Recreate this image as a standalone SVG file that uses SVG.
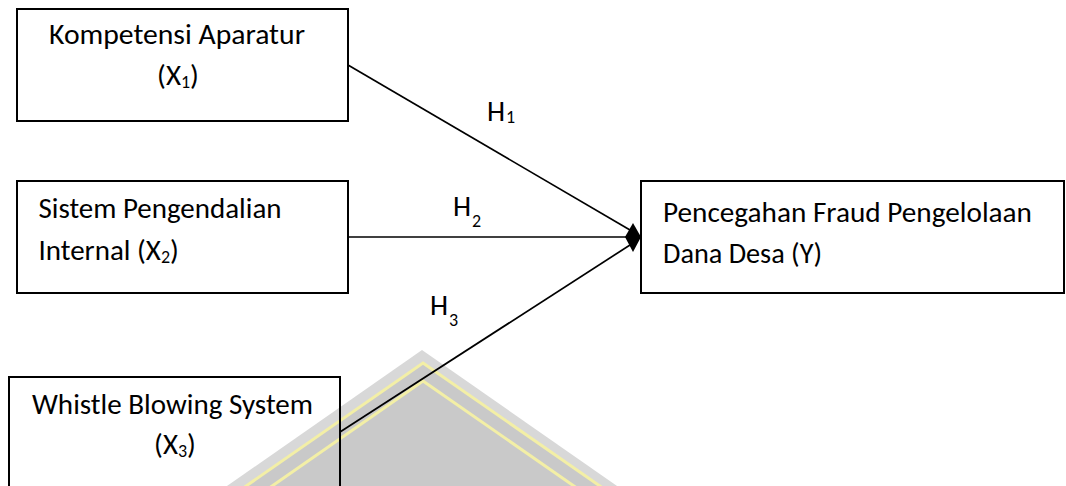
<svg xmlns="http://www.w3.org/2000/svg" width="1066" height="486" viewBox="0 0 1066 486">
  <style>
    .box { fill: none; stroke: #000; stroke-width: 2; }
    .lbl { font-family: Carlito, Lato, "Liberation Sans", sans-serif; font-size: 29px; fill: #000; }
    .sub { font-size: 18px; }
    .conn { stroke: #000; stroke-width: 1.7; fill: none; }
    .wm-out { fill: #d8d8d8; }
    .wm { fill: #c9c9c9; stroke: #f3efa6; stroke-width: 3; }
  </style>
  <rect width="1066" height="486" fill="#fff"/>

  <g id="watermark">
    <polygon class="wm-out" points="422,350 640,502 204,502"/>
    <polygon class="wm" points="423,363 620,500 226,500"/>
    <polygon class="wm" points="423,381 594,500 252,500"/>
  </g>

  <g id="connectors">
    <line class="conn" x1="348" y1="65" x2="630" y2="230"/>
    <line class="conn" x1="348" y1="237" x2="630" y2="237"/>
    <line class="conn" x1="340" y1="432" x2="630" y2="245"/>
    <polygon points="625,237 633,223 641,237 633,252" fill="#000"/>
    <text class="lbl" x="487" y="121">H<tspan class="sub" dx="1" dy="2">1</tspan></text>
    <text class="lbl" x="453" y="216">H<tspan class="sub" dx="1" dy="11">2</tspan></text>
    <text class="lbl" x="430" y="315">H<tspan class="sub" dx="1" dy="11">3</tspan></text>
  </g>

  <g id="node-x1">
    <rect class="box" x="17" y="9" width="331" height="112"/>
    <text class="lbl" x="49" y="43.5" textLength="256" lengthAdjust="spacingAndGlyphs">Kompetensi Aparatur</text>
    <text class="lbl" x="178" y="85" text-anchor="middle">(X<tspan class="sub" dy="3">1</tspan><tspan dy="-3">)</tspan></text>
  </g>

  <g id="node-x2">
    <rect class="box" x="17" y="181" width="331" height="112"/>
    <text class="lbl" x="38.5" y="218" textLength="243" lengthAdjust="spacingAndGlyphs">Sistem Pengendalian</text>
    <text class="lbl" x="38.5" y="260">Internal (X<tspan class="sub" dy="3">2</tspan><tspan dy="-3">)</tspan></text>
  </g>

  <g id="node-x3">
    <rect class="box" x="9" y="377" width="331" height="130"/>
    <text class="lbl" x="32" y="414" textLength="281" lengthAdjust="spacingAndGlyphs">Whistle Blowing System</text>
    <text class="lbl" x="175" y="454" text-anchor="middle">(X<tspan class="sub" dy="3">3</tspan><tspan dy="-3">)</tspan></text>
  </g>

  <g id="node-y">
    <rect class="box" x="641" y="181" width="423" height="112"/>
    <text class="lbl" x="663" y="221.5" textLength="369" lengthAdjust="spacingAndGlyphs">Pencegahan Fraud Pengelolaan</text>
    <text class="lbl" x="663" y="263" textLength="159" lengthAdjust="spacingAndGlyphs">Dana Desa (Y)</text>
  </g>
</svg>
